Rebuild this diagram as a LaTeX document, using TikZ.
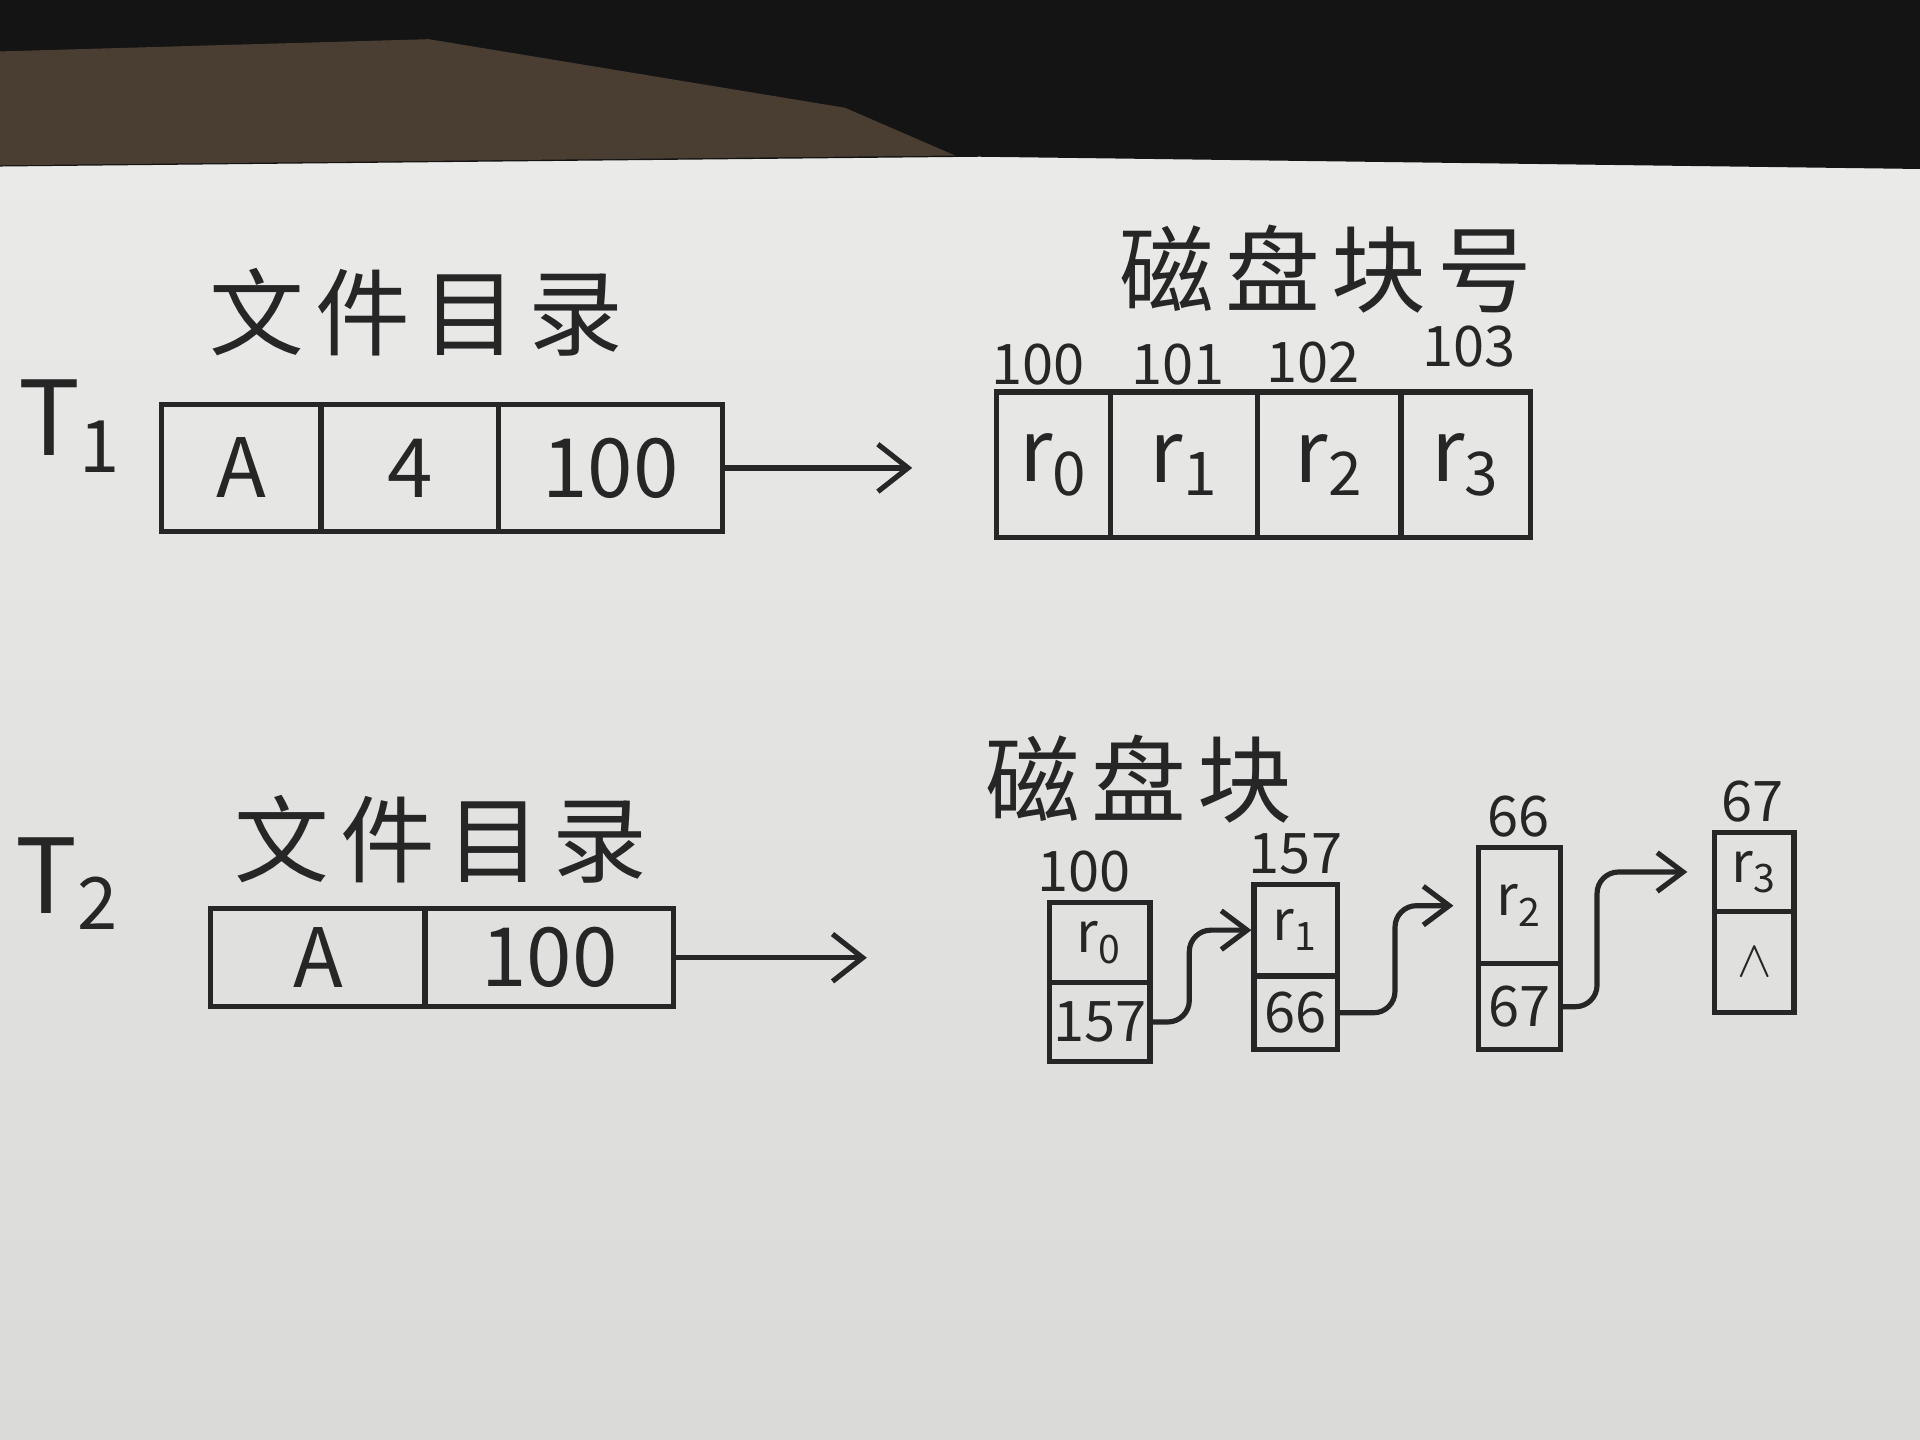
\documentclass[tikz,border=0pt]{standalone}
\usepackage{fontspec}
\setmainfont{Noto Sans CJK SC}
\newfontfamily\cjkwide[LetterSpace=12]{Noto Sans CJK SC}
\usetikzlibrary{arrows.meta}
\definecolor{paperA}{HTML}{ECECEA}
\definecolor{paperB}{HTML}{DADAD8}
\definecolor{ink}{HTML}{262626}
\definecolor{cloth}{HTML}{141414}
\definecolor{wood}{HTML}{4A3E33}
\begin{document}
\begin{tikzpicture}[x=0.01cm,y=-0.01cm,
  pen/.style={draw=ink,line width=1.2pt},
  cell/.style={pen,anchor=north west,inner sep=0pt,text=ink},
  title/.style={text=ink,font=\cjkwide\fontsize{22pt}{26pt}\selectfont},
  tlabel/.style={text=ink,anchor=west,inner sep=0pt,font=\fontsize{24pt}{28pt}\selectfont},
  big/.style={font=\fontsize{19pt}{22pt}\selectfont},
  rtxt/.style={font=\fontsize{20pt}{24pt}\selectfont},
  small/.style={font=\fontsize{13pt}{16pt}\selectfont},
  num/.style={text=ink,font=\fontsize{13pt}{16pt}\selectfont},
  link/.style={pen,-{Straight Barb[length=7pt,width=11pt]}},
  chain/.style={pen,rounded corners=5pt,-{Straight Barb[length=6pt,width=9pt]}}]
\useasboundingbox (0,0) rectangle (1568,1176);
% photo background
\shade[top color=paperA,bottom color=paperB] (0,0) rectangle (1568,1176);
\fill[cloth] (0,0) -- (1568,0) -- (1568,138) -- (800,128) -- (0,136) -- cycle;
\fill[wood] (0,42) -- (350,32) -- (690,88) -- (780,127) -- (0,135) -- cycle;

% ---------- T1 ----------
\node[tlabel] (t1) at (14,348) {T\textsubscript{1}};
\node[title] (dir1) at (340,255) {文件目录};
\node[cell,big,minimum width=1.30cm,minimum height=1.04cm] (d1a) at (130,328) {A};
\node[cell,big,minimum width=1.45cm,minimum height=1.04cm] (d1b) at (260,328) {4};
\node[cell,big,minimum width=1.83cm,minimum height=1.04cm] (d1c) at (405,328) {100};

\node[title] (disk1) at (1083,220) {磁盘块号};
\node[cell,rtxt,minimum width=0.93cm,minimum height=1.19cm] (b0) at (812,318) {r\textsubscript{0}};
\node[cell,rtxt,minimum width=1.20cm,minimum height=1.19cm] (b1) at (905,318) {r\textsubscript{1}};
\node[cell,rtxt,minimum width=1.17cm,minimum height=1.19cm] (b2) at (1025,318) {r\textsubscript{2}};
\node[cell,rtxt,minimum width=1.06cm,minimum height=1.19cm] (b3) at (1142,318) {r\textsubscript{3}};
\node[num] (n100) at (848,298) {100};
\node[num] (n101) at (962,298) {101};
\node[num] (n102) at (1072,296) {102};
\node[num] (n103) at (1200,283) {103};

\draw[link,shorten >=0.67cm] (d1c.east) -- (d1c.east -| b0.west);

% ---------- T2 ----------
\node[tlabel] (t2) at (12,722) {T\textsubscript{2}};
\node[title] (dir2) at (360,685) {文件目录};
\node[cell,big,minimum width=1.75cm,minimum height=0.80cm] (d2a) at (170,740) {A};
\node[cell,big,minimum width=2.03cm,minimum height=0.80cm] (d2b) at (345,740) {100};

\node[title] (disk2) at (930,636) {磁盘块};

% block 100
\node[cell,small,minimum width=0.82cm,minimum height=0.65cm] (k0t) at (855,735) {r\textsubscript{0}};
\node[cell,small,minimum width=0.82cm,minimum height=0.65cm] (k0b) at (855,800) {157};
\node[num] (m100) at (885,712) {100};
% block 157
\node[cell,small,minimum width=0.68cm,minimum height=0.75cm] (k1t) at (1022,720) {r\textsubscript{1}};
\node[cell,small,minimum width=0.68cm,minimum height=0.60cm] (k1b) at (1022,795) {66};
\node[num] (m157) at (1058,697) {157};
% block 66
\node[cell,small,minimum width=0.67cm,minimum height=0.95cm] (k2t) at (1205,690) {r\textsubscript{2}};
\node[cell,small,minimum width=0.67cm,minimum height=0.70cm] (k2b) at (1205,785) {67};
\node[num] (m66) at (1240,667) {66};
% block 67
\node[cell,small,minimum width=0.65cm,minimum height=0.64cm] (k3t) at (1398,678) {r\textsubscript{3}};
\node[cell,small,minimum width=0.65cm,minimum height=0.83cm] (k3b) at (1398,742) {$\wedge$};
\node[num] (m67) at (1431,655) {67};

\draw[link,shorten >=1.47cm] (d2b.east) -- (d2b.east -| k0t.west);
\draw[chain] (k0b.east) -- ++(30,0) |- (k1t.west);
\draw[chain,shorten >=0.18cm] (k1b.east) -- ++(45,0) |- (k2t.west);
\draw[chain,shorten >=0.2cm] (k2b.east) -- ++(28,0) |- (k3t.west);
\end{tikzpicture}
\end{document}
